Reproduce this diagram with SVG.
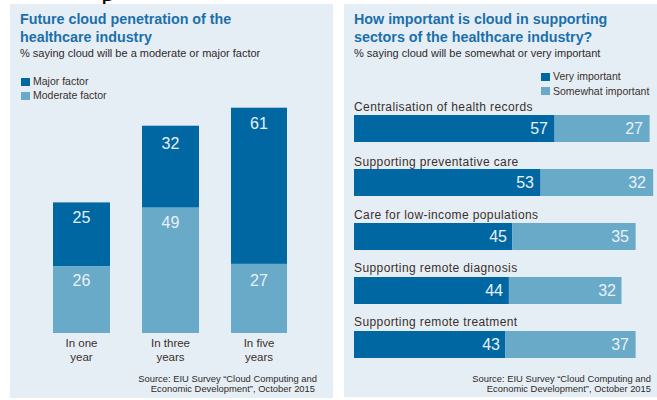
<svg xmlns="http://www.w3.org/2000/svg" width="657" height="400" viewBox="0 0 657 400">
<style>
.panel{fill:#e6eef5}
.dark{fill:#0067a3}
.light{fill:#69aac9}
.title{font-family:"Liberation Sans",Arial,sans-serif;font-weight:bold;font-size:14.3px;fill:#1b70ab}
.sub{font-family:"Liberation Sans",Arial,sans-serif;font-size:11px;fill:#2f2a28}
.lbl{font-family:"Liberation Sans",Arial,sans-serif;font-size:11.5px;fill:#3a302c}
.rl{font-size:12px;letter-spacing:0.4px}
.leg{font-family:"Liberation Sans",Arial,sans-serif;font-size:10.5px;fill:#3a302c}
.num{font-family:"Liberation Sans",Arial,sans-serif;font-size:16px;fill:#e8f1f7}
.src{font-family:"Liberation Sans",Arial,sans-serif;font-size:9.4px;fill:#2f2a28;text-anchor:end}
.mid{text-anchor:middle}
.end{text-anchor:end}
</style>
<rect width="657" height="400" fill="#ffffff"/>
<text x="101" y="1" font-family="Liberation Serif,serif" font-size="28" fill="#000">p</text>

<g id="left-panel">
<rect class="panel" x="10" y="4" width="323" height="394"/>
<text class="title" x="20" y="24">Future cloud penetration of the</text>
<text class="title" x="20" y="42">healthcare industry</text>
<text class="sub" x="20" y="57">% saying cloud will be a moderate or major factor</text>
<g id="legend-left">
<rect class="dark" x="21" y="78" width="9" height="8"/>
<text class="leg" x="33" y="85">Major factor</text>
<rect class="light" x="21" y="92" width="9" height="8"/>
<text class="leg" x="33" y="99">Moderate factor</text>
</g>
<g id="bar-one-year">
<rect class="dark" x="53" y="202.4" width="57" height="64"/>
<rect class="light" x="53" y="266.4" width="57" height="66.6"/>
<text class="num mid" x="81.5" y="223">25</text>
<text class="num mid" x="81.5" y="286">26</text>
<text class="lbl mid" x="81.5" y="347">In one</text>
<text class="lbl mid" x="81.5" y="361">year</text>
</g>
<g id="bar-three-years">
<rect class="dark" x="142" y="125.7" width="57" height="82"/>
<rect class="light" x="142" y="207.6" width="57" height="125.4"/>
<text class="num mid" x="170.5" y="149">32</text>
<text class="num mid" x="170.5" y="228">49</text>
<text class="lbl mid" x="170.5" y="347">In three</text>
<text class="lbl mid" x="170.5" y="361">years</text>
</g>
<g id="bar-five-years">
<rect class="dark" x="231" y="107.7" width="56" height="156.2"/>
<rect class="light" x="231" y="263.9" width="56" height="69.1"/>
<text class="num mid" x="259" y="129">61</text>
<text class="num mid" x="259" y="286">27</text>
<text class="lbl mid" x="259" y="347">In five</text>
<text class="lbl mid" x="259" y="361">years</text>
</g>
<text class="src" x="317" y="382">Source: EIU Survey “Cloud Computing and</text>
<text class="src" x="315" y="392">Economic Development”, October 2015</text>
</g>

<g id="right-panel">
<rect class="panel" x="344" y="4" width="313" height="393"/>
<text class="title" x="354" y="24">How important is cloud in supporting</text>
<text class="title" x="354" y="42">sectors of the healthcare industry?</text>
<text class="sub" x="354" y="57">% saying cloud will be somewhat or very important</text>
<g id="legend-right">
<rect class="dark" x="541" y="73" width="9" height="8"/>
<text class="leg" x="553" y="80">Very important</text>
<rect class="light" x="541" y="87" width="9" height="8"/>
<text class="leg" x="553" y="95">Somewhat important</text>
</g>
<g id="row-centralisation">
<text class="lbl rl" x="354" y="111">Centralisation of health records</text>
<rect class="dark" x="354" y="115" width="200.6" height="27"/>
<rect class="light" x="554.6" y="115" width="95" height="27"/>
<text class="num end" x="548" y="134">57</text>
<text class="num end" x="643" y="134">27</text>
</g>
<g id="row-preventative">
<text class="lbl rl" x="354" y="166">Supporting preventative care</text>
<rect class="dark" x="354" y="169" width="186.6" height="27"/>
<rect class="light" x="540.6" y="169" width="112.6" height="27"/>
<text class="num end" x="534" y="188">53</text>
<text class="num end" x="646" y="188">32</text>
</g>
<g id="row-low-income">
<text class="lbl rl" x="354" y="219">Care for low-income populations</text>
<rect class="dark" x="354" y="223" width="158.4" height="27"/>
<rect class="light" x="512.4" y="223" width="123.2" height="27"/>
<text class="num end" x="507" y="242">45</text>
<text class="num end" x="629" y="242">35</text>
</g>
<g id="row-diagnosis">
<text class="lbl rl" x="354" y="272">Supporting remote diagnosis</text>
<rect class="dark" x="354" y="277" width="154.9" height="27"/>
<rect class="light" x="508.9" y="277" width="112.6" height="27"/>
<text class="num end" x="503" y="296">44</text>
<text class="num end" x="616" y="296">32</text>
</g>
<g id="row-treatment">
<text class="lbl rl" x="354" y="326">Supporting remote treatment</text>
<rect class="dark" x="354" y="331" width="151.4" height="27"/>
<rect class="light" x="505.4" y="331" width="130.2" height="27"/>
<text class="num end" x="500" y="350">43</text>
<text class="num end" x="629" y="350">37</text>
</g>
<text class="src" x="651" y="382">Source: EIU Survey “Cloud Computing and</text>
<text class="src" x="651" y="392">Economic Development”, October 2015</text>
</g>
</svg>
